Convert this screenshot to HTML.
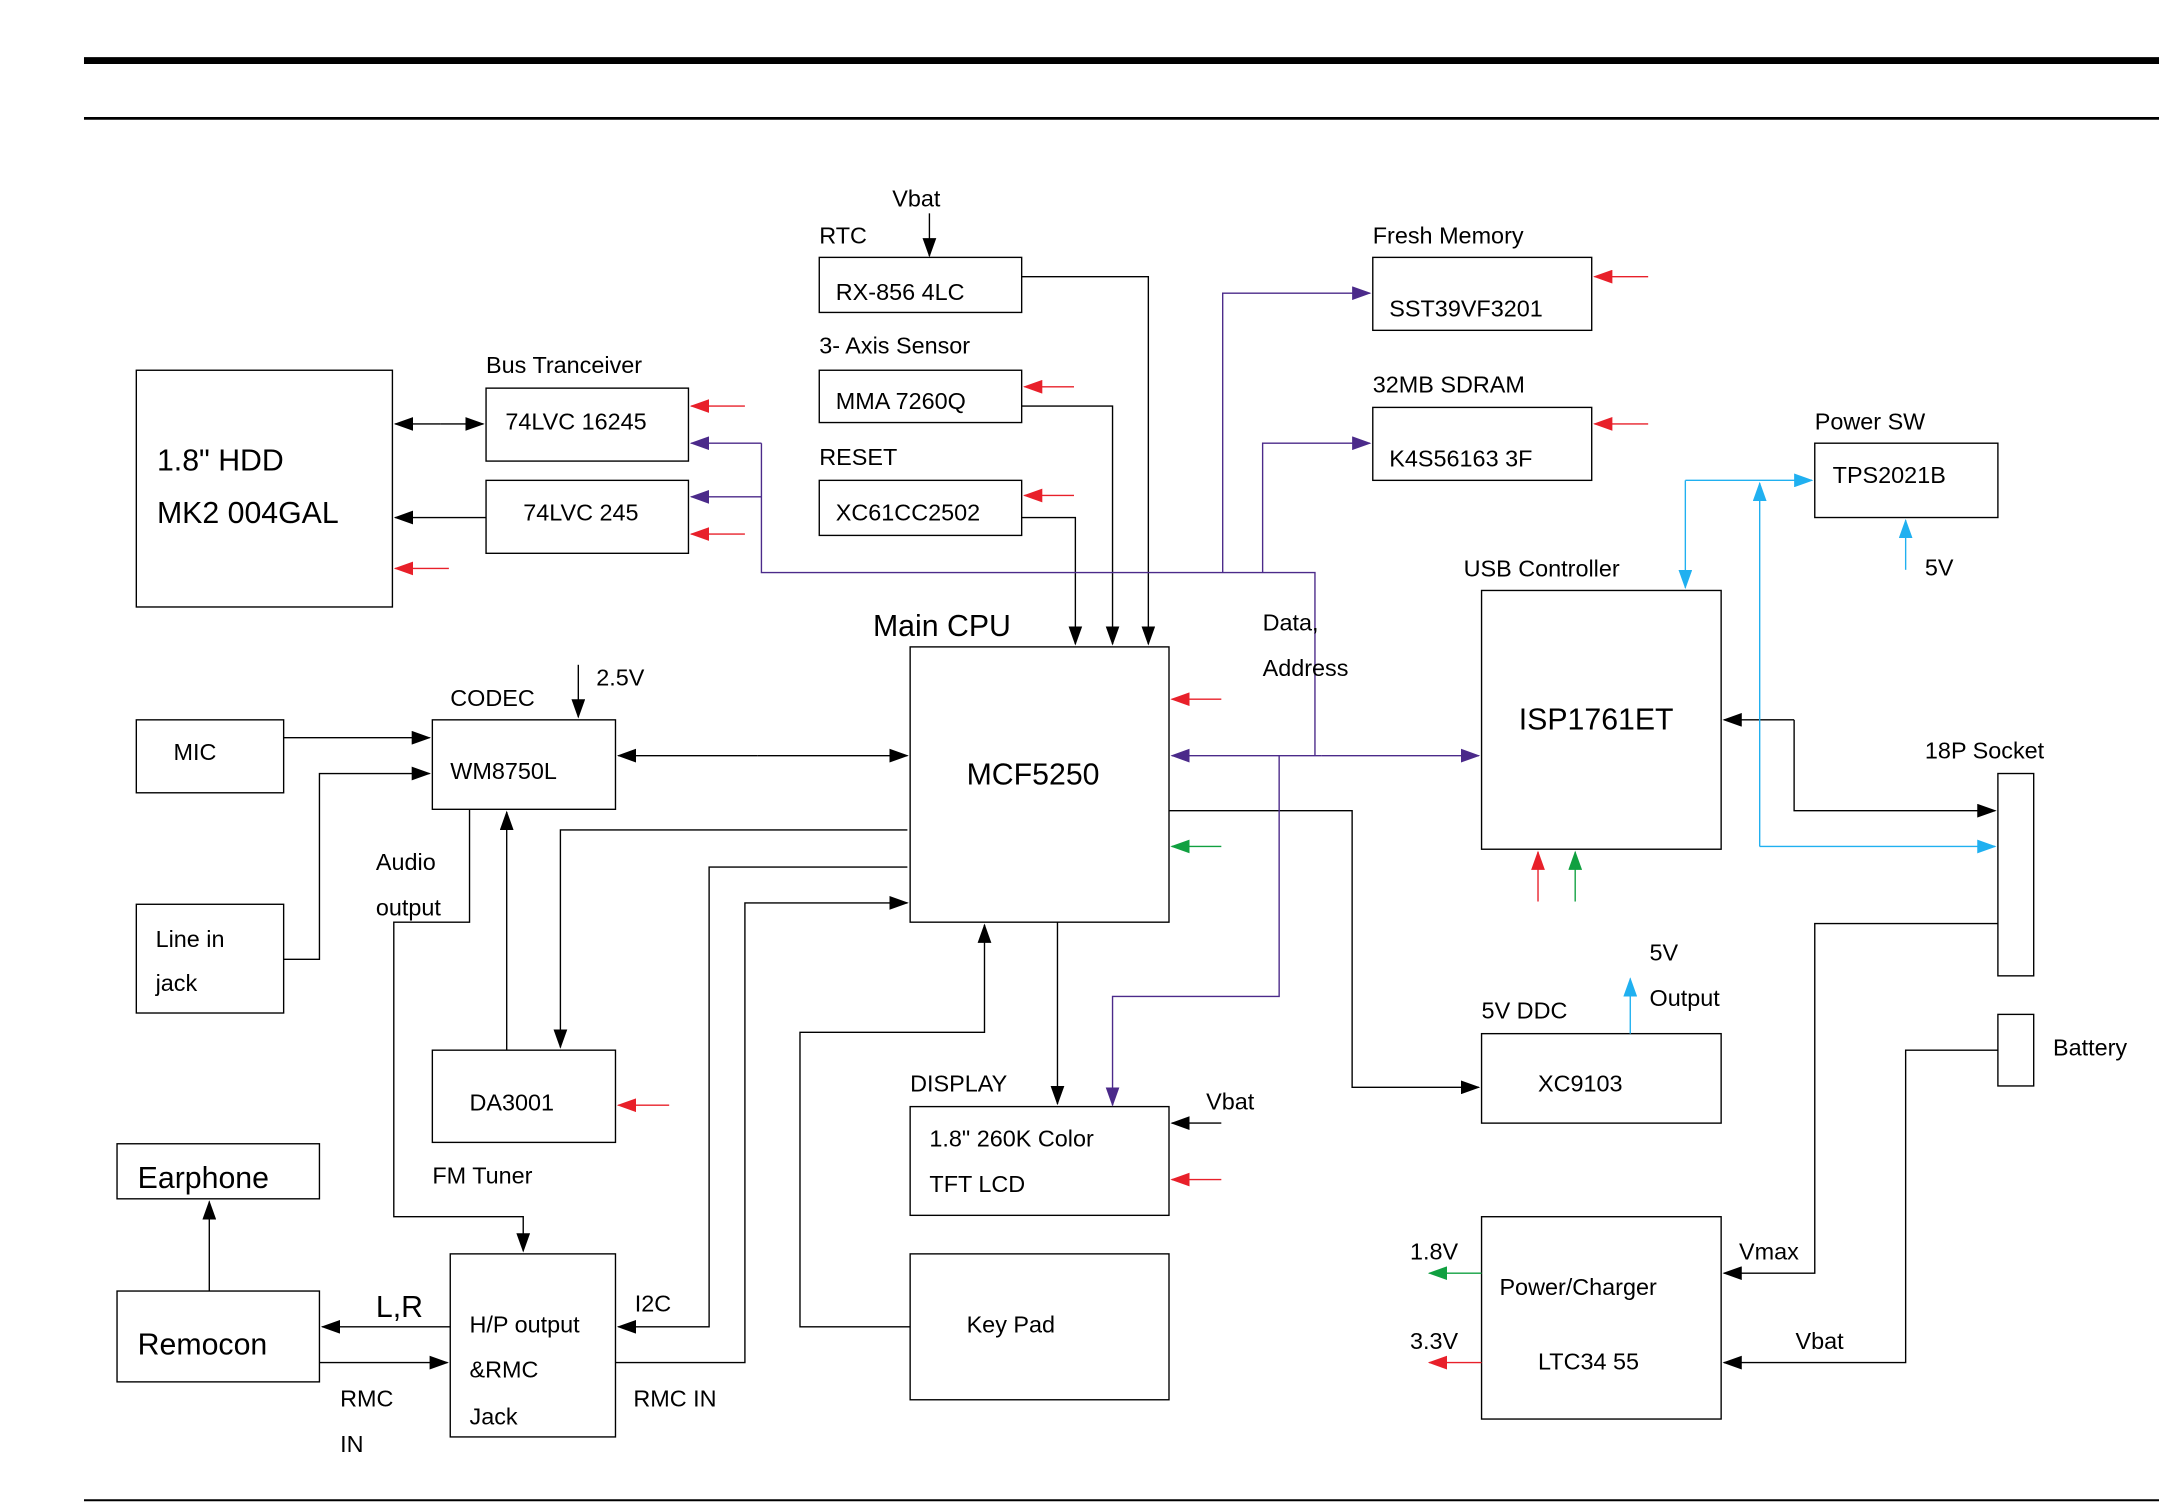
<!DOCTYPE html>
<html><head><meta charset="utf-8"><style>html,body{margin:0;padding:0;background:#fff}svg{display:block}</style></head><body>
<svg width="2159" height="1503" viewBox="0 0 1568 1092" preserveAspectRatio="none" xmlns="http://www.w3.org/2000/svg">
<defs>
<marker id="k" markerUnits="userSpaceOnUse" markerWidth="14" markerHeight="10" refX="13" refY="5" orient="auto"><path d="M0,0L14,5L0,10z" fill="#000"/></marker>
<marker id="p" markerUnits="userSpaceOnUse" markerWidth="14" markerHeight="10" refX="13" refY="5" orient="auto"><path d="M0,0L14,5L0,10z" fill="#4b2a8a"/></marker>
<marker id="r" markerUnits="userSpaceOnUse" markerWidth="14" markerHeight="10" refX="13" refY="5" orient="auto"><path d="M0,0L14,5L0,10z" fill="#e8202a"/></marker>
<marker id="g" markerUnits="userSpaceOnUse" markerWidth="14" markerHeight="10" refX="13" refY="5" orient="auto"><path d="M0,0L14,5L0,10z" fill="#10a040"/></marker>
<marker id="c" markerUnits="userSpaceOnUse" markerWidth="14" markerHeight="10" refX="13" refY="5" orient="auto"><path d="M0,0L14,5L0,10z" fill="#20b0f0"/></marker>
</defs>
<line x1="61" y1="44" x2="1568" y2="44" stroke="#000" stroke-width="5"/>
<line x1="61" y1="86" x2="1568" y2="86" stroke="#000" stroke-width="2"/>
<line x1="61" y1="1090" x2="1568" y2="1090" stroke="#000" stroke-width="1.5"/>
<g fill="none" stroke="#000" stroke-width="1">
<rect x="99" y="269" width="186" height="172"/>
<rect x="353" y="282" width="147" height="53"/>
<rect x="353" y="349" width="147" height="53"/>
<rect x="595" y="187" width="147" height="40"/>
<rect x="595" y="269" width="147" height="38"/>
<rect x="595" y="349" width="147" height="40"/>
<rect x="997" y="187" width="159" height="53"/>
<rect x="997" y="296" width="159" height="53"/>
<rect x="1318" y="322" width="133" height="54"/>
<rect x="1076" y="429" width="174" height="188"/>
<rect x="661" y="470" width="188" height="200"/>
<rect x="314" y="523" width="133" height="65"/>
<rect x="99" y="523" width="107" height="53"/>
<rect x="99" y="657" width="107" height="79"/>
<rect x="314" y="763" width="133" height="67"/>
<rect x="85" y="831" width="147" height="40"/>
<rect x="85" y="938" width="147" height="66"/>
<rect x="327" y="911" width="120" height="133"/>
<rect x="661" y="804" width="188" height="79"/>
<rect x="661" y="911" width="188" height="106"/>
<rect x="1076" y="751" width="174" height="65"/>
<rect x="1451" y="562" width="26" height="147"/>
<rect x="1451" y="737" width="26" height="52"/>
<rect x="1076" y="884" width="174" height="147"/>
</g>
<g fill="none" stroke="#000" stroke-width="1" marker-end="url(#k)">
<line x1="320" y1="308" x2="287" y2="308"/><line x1="320" y1="308" x2="351" y2="308"/>
<line x1="353" y1="376" x2="287" y2="376"/>
<line x1="675" y1="155" x2="675" y2="186"/>
<polyline points="742,201 834,201 834,468"/>
<polyline points="742,295 808,295 808,468"/>
<polyline points="742,376 781,376 781,468"/>
<line x1="550" y1="549" x2="449" y2="549"/><line x1="550" y1="549" x2="659" y2="549"/>
<line x1="206" y1="536" x2="312" y2="536"/>
<polyline points="206,697 232,697 232,562 312,562"/>
<line x1="420" y1="483" x2="420" y2="521"/>
<polyline points="341,588 341,670 286,670 286,884 380,884 380,909"/>
<line x1="368" y1="763" x2="368" y2="590"/>
<polyline points="659,603 407,603 407,761"/>
<polyline points="659,630 515,630 515,964 449,964"/>
<polyline points="447,990 541,990 541,656 659,656"/>
<line x1="327" y1="964" x2="234" y2="964"/>
<line x1="232" y1="990" x2="325" y2="990"/>
<line x1="152" y1="938" x2="152" y2="873"/>
<polyline points="661,964 581,964 581,750 715,750 715,672"/>
<line x1="768" y1="670" x2="768" y2="802"/>
<line x1="887" y1="816" x2="851" y2="816"/>
<polyline points="849,589 982,589 982,790 1074,790"/>
<polyline points="1303,523 1252,523"/>
<polyline points="1303,523 1303,589 1449,589"/>
<polyline points="1451,671 1318,671 1318,925 1252,925"/>
<polyline points="1451,763 1384,763 1384,990 1252,990"/>
</g>
<g fill="none" stroke="#4b2a8a" stroke-width="1">
<polyline points="955,549 955,416 553,416 553,322"/>
<line x1="553" y1="322" x2="502" y2="322" marker-end="url(#p)"/>
<line x1="553" y1="361" x2="502" y2="361" marker-end="url(#p)"/>
<polyline points="888,416 888,213 995,213" marker-end="url(#p)"/>
<polyline points="917,416 917,322 995,322" marker-end="url(#p)"/>
<line x1="960" y1="549" x2="851" y2="549" marker-end="url(#p)"/>
<line x1="960" y1="549" x2="1074" y2="549" marker-end="url(#p)"/>
<polyline points="929,549 929,724 808,724 808,803" marker-end="url(#p)"/>
</g>
<g fill="none" stroke="#e8202a" stroke-width="1" marker-end="url(#r)">
<line x1="326" y1="413" x2="287" y2="413"/>
<line x1="541" y1="295" x2="502" y2="295"/>
<line x1="541" y1="388" x2="502" y2="388"/>
<line x1="780" y1="281" x2="744" y2="281"/>
<line x1="780" y1="360" x2="744" y2="360"/>
<line x1="1197" y1="201" x2="1158" y2="201"/>
<line x1="1197" y1="308" x2="1158" y2="308"/>
<line x1="887" y1="508" x2="851" y2="508"/>
<line x1="887" y1="857" x2="851" y2="857"/>
<line x1="486" y1="803" x2="449" y2="803"/>
<line x1="1117" y1="655" x2="1117" y2="619"/>
<line x1="1076" y1="990" x2="1038" y2="990"/>
</g>
<g fill="none" stroke="#10a040" stroke-width="1" marker-end="url(#g)">
<line x1="887" y1="615" x2="851" y2="615"/>
<line x1="1144" y1="655" x2="1144" y2="619"/>
<line x1="1076" y1="925" x2="1038" y2="925"/>
</g>
<g fill="none" stroke="#20b0f0" stroke-width="1" marker-end="url(#c)">
<polyline points="1224,349 1224,427"/>
<line x1="1224" y1="349" x2="1316" y2="349"/>
<line x1="1278" y1="615" x2="1278" y2="351"/>
<line x1="1278" y1="615" x2="1449" y2="615"/>
<line x1="1384" y1="414" x2="1384" y2="378"/>
<line x1="1184" y1="751" x2="1184" y2="711"/>
</g>
<g font-family="Liberation Sans, sans-serif" font-size="17" fill="#000">
<text x="114" y="342" font-size="22">1.8"  HDD</text>
<text x="114" y="380" font-size="22">MK2 004GAL</text>
<text x="353" y="271">Bus Tranceiver</text>
<text x="367" y="312">74LVC 16245</text>
<text x="380" y="378">74LVC 245</text>
<text x="648" y="150">Vbat</text>
<text x="595" y="177">RTC</text>
<text x="607" y="218">RX-856 4LC</text>
<text x="595" y="257">3- Axis  Sensor</text>
<text x="607" y="297">MMA 7260Q</text>
<text x="595" y="338">RESET</text>
<text x="607" y="378">XC61CC2502</text>
<text x="997" y="177">Fresh  Memory</text>
<text x="1009" y="230">SST39VF3201</text>
<text x="997" y="285">32MB  SDRAM</text>
<text x="1009" y="339">K4S56163 3F</text>
<text x="1318" y="312">Power  SW</text>
<text x="1331" y="351">TPS2021B</text>
<text x="1398" y="418">5V</text>
<text x="1063" y="419">USB  Controller</text>
<text x="1103" y="530" font-size="22">ISP1761ET</text>
<text x="634" y="462" font-size="22">Main  CPU</text>
<text x="702" y="570" font-size="22">MCF5250</text>
<text x="917" y="458">Data,</text>
<text x="917" y="491">Address</text>
<text x="327" y="513">CODEC</text>
<text x="433" y="498">2.5V</text>
<text x="327" y="566">WM8750L</text>
<text x="126" y="552">MIC</text>
<text x="113" y="688">Line   in</text>
<text x="113" y="720">jack</text>
<text x="273" y="632">Audio</text>
<text x="273" y="665">output</text>
<text x="341" y="807">DA3001</text>
<text x="314" y="860">FM  Tuner</text>
<text x="100" y="863" font-size="22">Earphone</text>
<text x="100" y="984" font-size="22">Remocon</text>
<text x="273" y="957" font-size="22">L,R</text>
<text x="341" y="968">H/P  output</text>
<text x="341" y="1001">&amp;RMC</text>
<text x="341" y="1035">Jack</text>
<text x="247" y="1022">RMC</text>
<text x="247" y="1055">IN</text>
<text x="461" y="953">I2C</text>
<text x="460" y="1022">RMC  IN</text>
<text x="661" y="793">DISPLAY</text>
<text x="675" y="833">1.8"  260K  Color</text>
<text x="675" y="866">TFT   LCD</text>
<text x="876" y="806">Vbat</text>
<text x="702" y="968">Key   Pad</text>
<text x="1076" y="740">5V  DDC</text>
<text x="1117" y="793">XC9103</text>
<text x="1198" y="698">5V</text>
<text x="1198" y="731">Output</text>
<text x="1398" y="551">18P  Socket</text>
<text x="1491" y="767">Battery</text>
<text x="1089" y="941">Power/Charger</text>
<text x="1117" y="995">LTC34 55</text>
<text x="1263" y="915">Vmax</text>
<text x="1304" y="980">Vbat</text>
<text x="1024" y="915">1.8V</text>
<text x="1024" y="980">3.3V</text>
</g>
</svg>
</body></html>
